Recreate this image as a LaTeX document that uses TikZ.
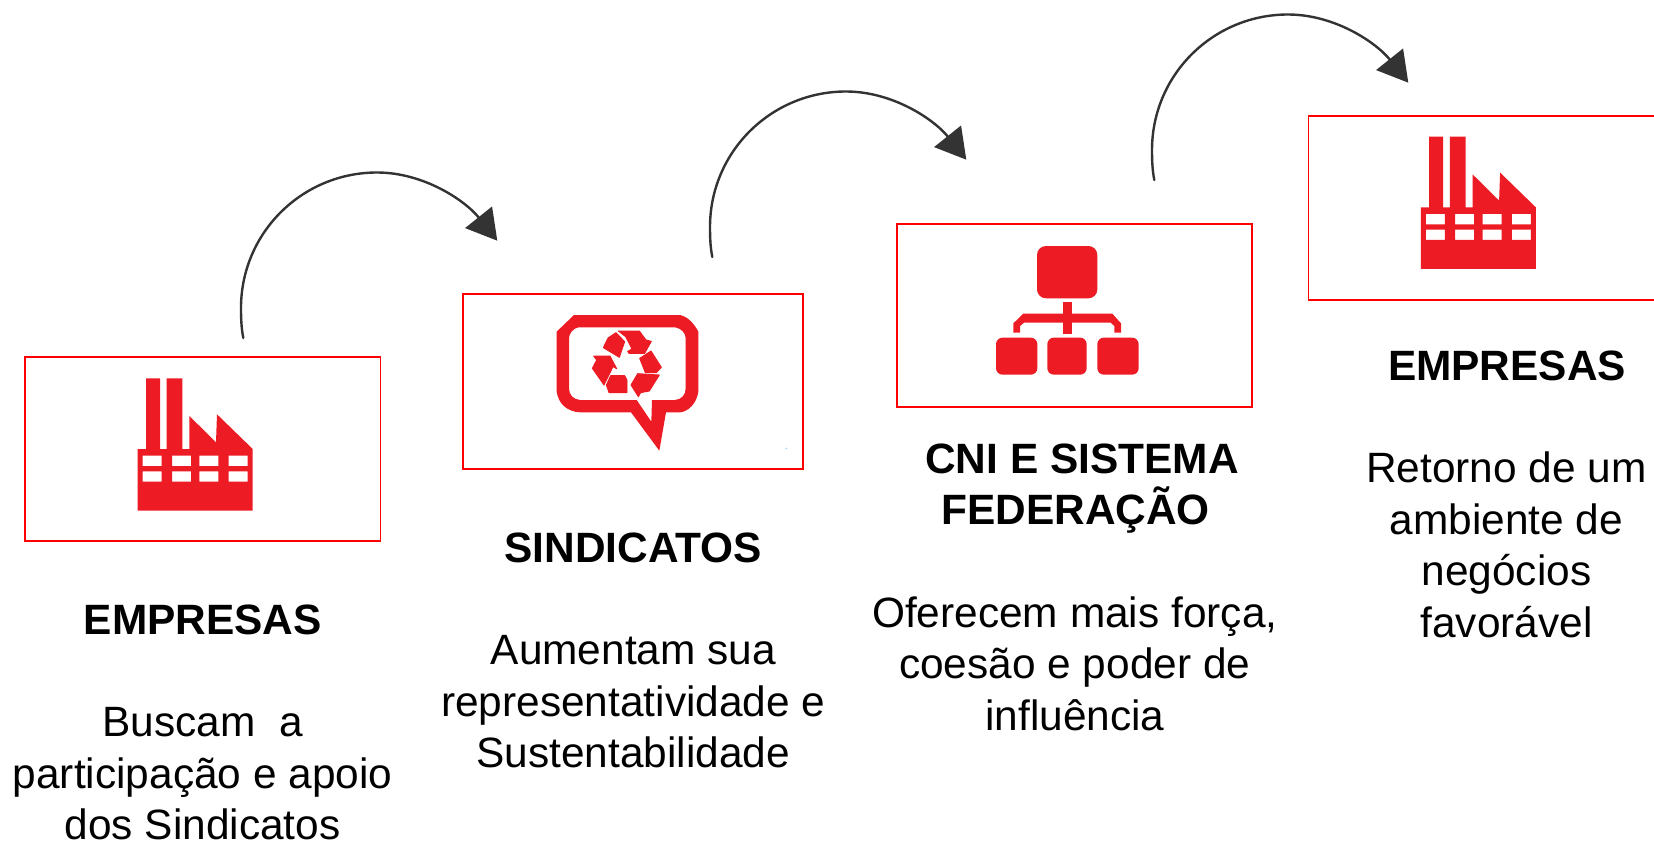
\documentclass[tikz,border=0pt]{standalone}
\usepackage{fontspec}
\setmainfont{Liberation Sans}
\usetikzlibrary{arrows.meta}
\definecolor{iconred}{HTML}{ED1C24}
\definecolor{arrowgrey}{HTML}{333333}
\tikzset{
  redbox/.style={draw=red,line width=1.9pt,fill=white,anchor=north west,inner sep=0pt,outer sep=0pt},
  headtext/.style={font=\fontsize{42.4}{50.5}\selectfont\bfseries,align=center,anchor=base,inner sep=0pt},
  bodytext/.style={font=\fontsize{42.4}{51.5}\selectfont,align=center,anchor=base,inner sep=0pt},
  curvearrow/.style={draw=arrowgrey,line width=2.4pt,line cap=round,-{Triangle[length=30pt,width=34pt,color=arrowgrey]}},
  iconfill/.style={fill=iconred,even odd rule},
  recyclepiece/.style={fill=iconred,draw=iconred,line width=0.9pt,line join=round},
  factory/.pic={
    \fill[iconfill] (0,70.7) -- (8.3,70.7) -- (8.3,0) -- (22.3,0) -- (22.3,70.7) -- (29,70.7) -- (29,0) -- (44.7,0) -- (44.7,70.7)
      -- (51.7,70.7) -- (51.7,37.7) -- (78.3,64) -- (79.3,36) -- (115,70.7) -- (115,132.3) -- (0,132.3) -- cycle
      (5,77.3) rectangle (24,87.7) (34.3,77.3) rectangle (53.3,87.7) (61.7,77.3) rectangle (80.7,87.7) (91,77.3) rectangle (110,87.7)
      (5,93) rectangle (24,103.3) (34.3,93) rectangle (53.3,103.3) (61.7,93) rectangle (80.7,103.3) (91,93) rectangle (110,103.3);
  }
}
\newcommand{\bentarrow}[4]{\draw[curvearrow] (#1) .. controls +(-2,-10) and +(0,10) .. (#2) .. controls +(0,-75) and +(-75,0) .. (#3) .. controls +(47,0) and +(-32,-40) .. (#4);}
\begin{document}
\begin{tikzpicture}[x=1pt,y=-1pt]
\useasboundingbox (0,0) rectangle (1654,843);
% boxes
\node[redbox,minimum width=355.5pt,minimum height=184pt] (b1) at (25,357) {};
\node[redbox,minimum width=340pt,minimum height=175pt] (b2) at (463,294) {};
\node[redbox,minimum width=355pt,minimum height=183pt] (b3) at (897,224) {};
\node[redbox,minimum width=358pt,minimum height=184pt] (b4) at (1308.5,116) {};
% icons
\pic at (137.7,378.3) {factory};
\pic at (1420.8,136.6) {factory};
\begin{scope}[shift={(450,280)},scale=1/3]
  \fill[iconfill] (372,105) -- (690,105) .. controls (715,110) and (735,135) .. (745,155) -- (745,335) .. controls (740,370) and (715,395) .. (690,397) -- (648,397) -- (628,512) -- (543,397) -- (390,397) .. controls (350,395) and (325,370) .. (320,335) -- (320,155) -- cycle
    (385,142) -- (675,142) .. controls (695,145) and (707,160) .. (707,175) -- (707,325) .. controls (707,345) and (695,358) .. (675,360) -- (606,360) -- (604,425) -- (560,360) -- (390,360) .. controls (370,358) and (357,345) .. (357,325) -- (357,175) .. controls (357,160) and (370,145) .. (385,142) -- cycle;
  \path[recyclepiece] (498,158) -- (524,185) -- (508,232) -- (460,203) -- (474,174) -- cycle;
  \path[recyclepiece] (505,153) -- (568,153) -- (588,180) -- (604,184) -- (584,220) -- (537,220) -- (533,214) -- (546,207) -- (527,170) -- cycle;
  \path[recyclepiece] (603,213) -- (634,262) -- (619,278) -- (586,278) -- (569,235) -- cycle;
  \path[recyclepiece] (563,281) -- (628,285) -- (598,333) -- (572,338) -- (565,350) -- (543,315) -- cycle;
  \path[recyclepiece] (482,287) -- (524,287) -- (531,300) -- (531,338) -- (477,338) -- (469,315) -- cycle;
  \path[recyclepiece] (431,228) -- (480,228) -- (500,266) -- (489,260) -- (462,315) -- (427,265) -- (440,240) -- cycle;
  \fill[blue!40!cyan!50] (1009,505) circle (2.5);
\end{scope}
\begin{scope}[shift={(890,210)},scale=1/3]
  \fill[iconred,rounded corners=9pt] (441,108) rectangle (622,265);
  \fill[iconred] (520,275) rectangle (545,373);
  \fill[iconred] (370,368) -- (370,340) -- (400,311) -- (667,311) -- (693,340) -- (693,368) -- (673,368) -- (673,348) -- (662,338) -- (402,338) -- (390,348) -- (390,368) -- cycle;
  \fill[iconred,rounded corners=6.5pt] (318,383) rectangle (442,494);
  \fill[iconred,rounded corners=6.5pt] (472,383) rectangle (590,494);
  \fill[iconred,rounded corners=6.5pt] (622,383) rectangle (746,494);
\end{scope}
% connectors
\coordinate (a1s) at (243.3,338); \coordinate (a1l) at (241,308); \coordinate (a1t) at (377,172.5); \coordinate (a1e) at (497.3,240.7);
\coordinate (a2s) at (712.3,257); \coordinate (a2l) at (710,227); \coordinate (a2t) at (846,91.5); \coordinate (a2e) at (966.3,159.7);
\coordinate (a3s) at (1154.3,180); \coordinate (a3l) at (1152,150); \coordinate (a3t) at (1288,14.5); \coordinate (a3e) at (1408.3,82.7);
\bentarrow{a1s}{a1l}{a1t}{a1e}
\bentarrow{a2s}{a2l}{a2t}{a2e}
\bentarrow{a3s}{a3l}{a3t}{a3e}
% text
\node[headtext] (h1) at (202.8,634) {EMPRESAS};
\node[bodytext] (t1) at (202.6,839.5) {Buscam\ \ a\\participação e apoio\\dos Sindicatos};
\node[headtext] (h2) at (633.3,562) {SINDICATOS};
\node[bodytext] (t2) at (633.3,767.5) {Aumentam sua\\representatividade e\\Sustentabilidade};
\node[headtext] (h3) at (1082,524) {CNI E SISTEMA\\FEDERAÇÃO\hspace*{12.7pt}};
\node[bodytext] (t3) at (1074.8,730) {Oferecem mais força,\\coesão e poder de\\influência};
\node[headtext] (h4) at (1507,380.5) {EMPRESAS};
\node[bodytext] (t4) at (1506.5,637) {Retorno de um\\ambiente de\\negócios\\favorável};
\end{tikzpicture}
\end{document}
